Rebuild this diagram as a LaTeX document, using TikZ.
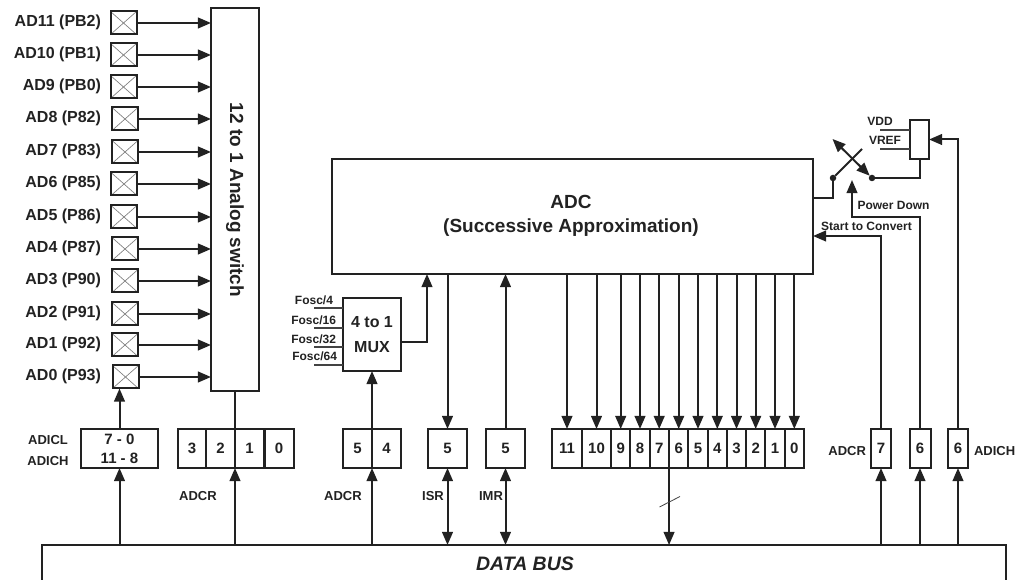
\documentclass[tikz,border=0pt]{standalone}
\usepackage{fontspec}
\setmainfont{Liberation Sans}
\usetikzlibrary{arrows.meta}
\definecolor{ink}{HTML}{222222}
\tikzset{
  x=0.75pt,y=-0.75pt,
  every node/.style={inner sep=0pt,outer sep=0pt,text=ink},
  wire/.style={draw=ink,line width=1.5pt},
  thinwire/.style={draw=ink!85,line width=0.85pt},
  arr/.style={wire,-{Triangle[length=9.8pt,width=8pt]}},
  darr/.style={wire,{Triangle[length=9.8pt,width=8pt]}-{Triangle[length=9.8pt,width=8pt]}},
  sz/.style 2 args={minimum width=#1*0.75pt,minimum height=#2*0.75pt},
  box/.style={draw=ink,line width=1.5pt,fill=white,rectangle},
  fpx/.style={font=\fontsize{#1}{#1}\selectfont\bfseries},
  cell/.style={box,fpx=11.25,sz={#1}{39}},
  pin/.style={box,sz={26}{23},path picture={
     \draw[gray,line width=0.5pt] (path picture bounding box.north west)--(path picture bounding box.south east)
       (path picture bounding box.north east)--(path picture bounding box.south west);}},
  pinlabel/.style={fpx=12,anchor=east},
  tag/.style={fpx=9.75},
  small/.style={fpx=9},
  dot/.style={circle,fill=ink,minimum size=6.5*0.75pt},
}
\begin{document}
\begin{tikzpicture}
\useasboundingbox (0,0) rectangle (1021,580);
% switch and bus
\node[box,sz={48}{383}] (sw) at (235,199.5) {};
\node[fpx=14.25,rotate=-90] at (235,200) {12 to 1 Analog switch};
\node[sz={964}{35}] (bus) at (524,562.5) {};
\draw[wire] (bus.south west) -- (bus.north west) -- (bus.north east) -- (bus.south east);
\node[font=\fontsize{14.6}{14.6}\selectfont\bfseries\itshape] at (525,564) {DATA BUS};
% pins
\foreach \n/\lab/\px/\y in {p11/AD11 (PB2)/123.5/23,p10/AD10 (PB1)/123.5/55,p9/AD9 (PB0)/123.5/87,p8/AD8 (P82)/125/119,
  p7/AD7 (P83)/125/152,p6/AD6 (P85)/124/184,p5/AD5 (P86)/124/217,p4/AD4 (P87)/125/249,p3/AD3 (P90)/125/281,
  p2/AD2 (P91)/125/314,p1/AD1 (P92)/125/345,p0/AD0 (P93)/125.5/377}{
  \node[pin] (\n) at (\px,\y) {};
  \node[pinlabel] at (101,\y-0.5) {\lab};
  \draw[arr] (\n.east) -- (\n.east -| sw.west);
}
% ADC
\node[box,sz={481}{115}] (adc) at (572.5,216.5) {};
\node[align=center,font=\fontsize{14.25}{18}\selectfont\bfseries] at (571,215.5) {ADC\\(Successive Approximation)};
% ADICL/ADICH register
\node[box,sz={77}{39},align=center,font=\fontsize{11.25}{14.4}\selectfont\bfseries] (adicl) at (119.5,448.5) {7 - 0\\11 - 8};
\node[tag] at (48,440) {ADICL};
\node[tag] at (48,461) {ADICH};
\draw[arr] (adicl.north) -- (adicl.north |- p0.south);
\draw[arr] (adicl.south |- bus.north) -- (adicl.south);
% ADCR 3..0
\foreach \n/\x in {3/192,2/220.5,1/249.5,0/279}{
  \node[cell=29] (r\n) at (\x,448.5) {\n};
}
\draw[wire] (r2.north east |- sw.south) -- (r2.north east);
\draw[arr] (r2.south east |- bus.north) -- (r2.south east);
\node[tag] at (198,496) {ADCR};
% MUX
\node[box,sz={58}{73},align=center,font=\fontsize{12}{19}\selectfont\bfseries] (mux) at (372,334.5) {4 to 1\\MUX};
\coordinate (f1) at (314,308);
\coordinate (f2) at (314,328);
\coordinate (f3) at (314,347);
\coordinate (f4) at (314,365);
\draw[thinwire] (f1) -- (f1 -| mux.west);
\draw[thinwire] (f2) -- (f2 -| mux.west);
\draw[thinwire] (f3) -- (f3 -| mux.west);
\draw[thinwire] (f4) -- (f4 -| mux.west);
\node[small,anchor=east] at (333,300) {Fosc/4};
\node[small,anchor=east] at (336,320) {Fosc/16};
\node[small,anchor=east] at (336,339.5) {Fosc/32};
\node[small,anchor=east] at (337,356.5) {Fosc/64};
\coordinate (muxup) at (427,342);
\draw[arr] (mux.east |- muxup) -- (muxup) -- (muxup |- adc.south);
% ADCR 5 4
\node[cell=29] (m5) at (357.5,448.5) {5};
\node[cell=29] (m4) at (386.5,448.5) {4};
\draw[arr] (m5.north east) -- (mux.south);
\draw[arr] (m5.south east |- bus.north) -- (m5.south east);
\node[tag] at (343,496) {ADCR};
% ISR IMR
\node[cell=39] (isr) at (447.5,448.5) {5};
\node[cell=39] (imr) at (505.5,448.5) {5};
\draw[arr] (isr.north |- adc.south) -- (isr.north);
\draw[arr] (imr.north) -- (imr.north |- adc.south);
\draw[darr] (isr.south) -- (isr.south |- bus.north);
\draw[darr] (imr.south) -- (imr.south |- bus.north);
\node[tag] at (433,496) {ISR};
\node[tag] at (491,496) {IMR};
% 12-bit register
\foreach \n/\c/\w in {11/567/30,10/596.5/29.5,9/620.7/19,8/640/19.3,7/659.2/19.3,6/678.7/19.3,5/698/19.3,4/717.3/19.3,3/736.5/19,2/755.7/19.3,1/775/19.3,0/794.3/19.3}{
  \node[cell=\w] (b\n) at (\c,448.5) {\n};
  \draw[arr] (b\n.north |- adc.south) -- (b\n.north);
}
\draw[arr] (b6.south west) -- (b6.south west |- bus.north);
\draw[thinwire,line width=0.6pt] (659.5,507) -- (680,496.5);
% right registers
\node[cell=20] (a7) at (881,448.5) {7};
\node[cell=21] (a6) at (920,448.5) {6};
\node[cell=20] (h6) at (958,448.5) {6};
\node[tag,anchor=east] at (866,451) {ADCR};
\node[tag,anchor=west] at (974,451) {ADICH};
\foreach \n in {a7,a6,h6}{
  \draw[arr] (\n.south |- bus.north) -- (\n.south);
}
% reference selector
\node[box,sz={19}{39}] (ref) at (919.5,139.5) {};
\node[dot] (dotL) at (833,178) {};
\node[dot] (dotR) at (872,178) {};
\coordinate (vdd) at (880,130);
\coordinate (vrf) at (880,149);
\draw[thinwire] (vdd) -- (vdd -| ref.west);
\draw[thinwire] (vrf) -- (vrf -| ref.west);
\node[small] at (880,121) {VDD};
\node[small] at (885,140) {VREF};
\draw[wire] (ref.south) |- (dotR);
\coordinate (swin) at (813,198);
\draw[wire] (swin) -| (dotL);
\coordinate (armend) at (862,149);
\coordinate (armtip) at (832.5,139);
\draw[wire] (dotL) -- (armend);
\draw[darr] (armtip) -- (dotR);
% control lines
\coordinate (stc) at (813,236);
\draw[arr] (a7.north) |- (stc);
\coordinate (pdk) at (852,217);
\coordinate (pdt) at (852,180);
\draw[arr] (a6.north) |- (pdk) -- (pdt);
\draw[arr] (h6.north) |- (ref.east);
\node[small] at (893.5,205) {Power Down};
\node[small] at (866.5,226) {Start to Convert};
\end{tikzpicture}
\end{document}
